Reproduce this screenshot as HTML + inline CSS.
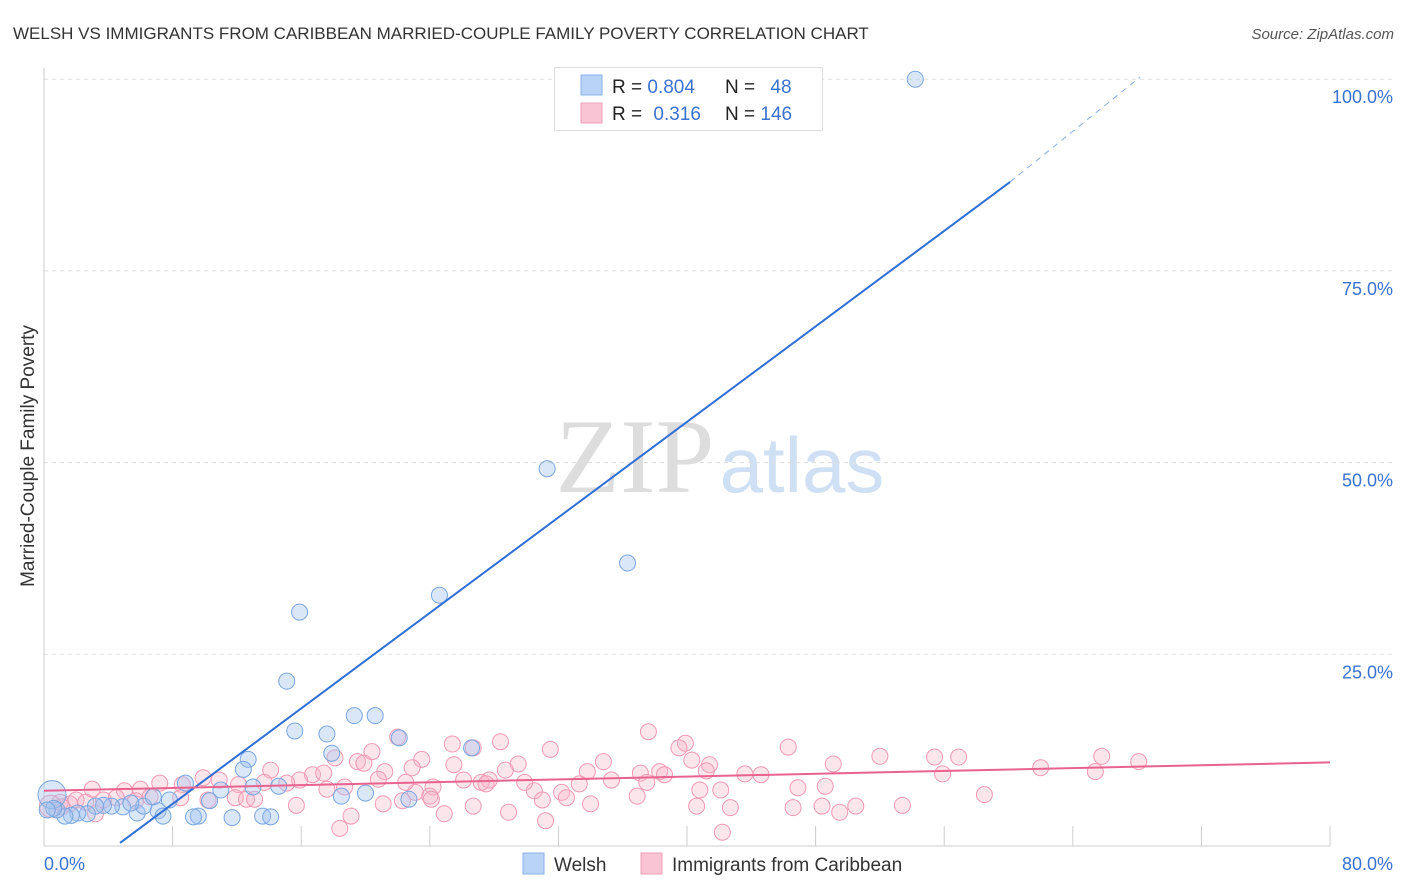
<!DOCTYPE html>
<html><head><meta charset="utf-8">
<style>
body{margin:0;background:#fff;font-family:"Liberation Sans",sans-serif;}
svg{display:block}
</style></head>
<body>
<svg id="chart" width="1406" height="892" xmlns="http://www.w3.org/2000/svg">
<text x="13" y="39" font-size="17" fill="#333">WELSH VS IMMIGRANTS FROM CARIBBEAN MARRIED-COUPLE FAMILY POVERTY CORRELATION CHART</text>
<text x="1394" y="39" font-size="15" fill="#555" font-style="italic" text-anchor="end">Source: ZipAtlas.com</text>
<text x="34" y="456" font-size="19" fill="#333" text-anchor="middle" transform="rotate(-90 34 456)">Married-Couple Family Poverty</text>
<g>
<text x="635" y="492" font-size="106" fill="#ddd" font-family="Liberation Serif,serif" text-anchor="middle">ZIP</text>
<text x="802" y="492" font-size="78" fill="#cfe0f4" text-anchor="middle">atlas</text>
</g>
<g id="grid"></g>
<g id="axes"></g>
<g id="pts"></g>
<g id="lines"></g>
<g>
<rect x="554.5" y="67.5" width="268" height="63" fill="#fff" stroke="#ddd"/>
<rect x="581" y="75" width="21" height="20" fill="#b8d3f5" stroke="#8ab2e8"/>
<rect x="581" y="103" width="21" height="20" fill="#f9c4d3" stroke="#f0a0b8"/>
<text x="612" y="93" font-size="19" fill="#222">R = <tspan fill="#3a72d0">0.804</tspan></text>
<text x="725" y="93" font-size="19" fill="#222">N = <tspan fill="#3a72d0" dx="10">48</tspan></text>
<text x="612" y="120" font-size="19" fill="#222">R = <tspan fill="#3a72d0" dx="6">0.316</tspan></text>
<text x="725" y="120" font-size="19" fill="#222">N = <tspan fill="#3a72d0">146</tspan></text>
</g>
<g>
<rect x="523" y="853" width="21" height="21" fill="#b8d3f5" stroke="#8ab2e8"/>
<text x="554" y="871" font-size="19" fill="#333">Welsh</text>
<rect x="641" y="853" width="21" height="21" fill="#f9c4d3" stroke="#f0a0b8"/>
<text x="672" y="871" font-size="19" fill="#333">Immigrants from Caribbean</text>
</g>
</svg>
<script>
const xTicks=[0,8,16,24,32,40,48,56,64,72,80];
const yTicks=[25,50,75,100];
const yTickLabels=["25.0%","50.0%","75.0%","100.0%"];
const xEndLabels=["0.0%","80.0%"];
const welshX=[54.2,31.3,36.3,24.6,15.9,15.1,15.6,17.6,19.3,20.6,17.9,22.1,26.6,12.7,12.4,14.6,18.5,20.0,22.7,13.0,11.0,8.8,10.3,11.7,13.6,14.1,9.6,9.3,7.1,7.4,5.8,6.2,6.8,7.8,4.9,4.2,3.7,3.2,2.7,2.1,1.7,1.3,0.8,0.5,0.6,0.2,5.4,33.3];
const welshY=[100,49.2,36.9,32.7,30.5,21.5,15.0,14.6,17.0,17.0,12.1,14.1,12.8,11.3,10.0,7.8,6.5,6.9,6.1,7.7,7.3,8.2,5.9,3.7,3.9,3.8,3.9,3.8,4.6,3.9,4.3,5.2,6.4,6.0,5.1,5.2,5.3,5.2,4.2,4.3,4.0,3.9,4.7,6.7,4.9,4.7,5.6,100];
const caribX=[37.6,39.9,39.5,46.3,52.0,55.4,56.9,65.8,68.1,62.0,65.4,55.9,49.1,44.6,41.4,40.3,34.8,31.5,28.4,25.4,26.7,22.0,20.4,18.1,19.5,19.9,29.5,25.5,23.5,22.9,21.2,28.7,33.8,37.1,38.3,38.6,41.2,43.6,42.1,48.6,46.9,40.8,37.5,35.3,33.3,32.2,30.5,29.9,27.7,27.2,27.5,26.1,24.2,23.1,22.5,20.8,18.7,17.6,16.7,17.4,15.9,15.1,14.1,13.7,12.1,10.9,9.9,8.6,7.2,6.0,5.0,3.0,2.0,1.6,1.0,2.6,3.7,4.5,5.7,6.6,8.5,10.2,11.9,12.6,13.1,15.7,21.1,22.3,24.0,24.1,26.7,28.9,31.0,32.5,34.0,36.9,40.6,42.7,46.6,48.4,50.5,53.4,58.5,49.5,42.2,31.2,24.9,19.1,18.4,3.2,1.1,0.4];
const caribY=[14.9,13.4,12.8,12.9,11.7,11.6,11.6,11.7,11.0,10.2,9.7,9.4,10.7,9.3,10.6,11.2,11.0,12.6,13.6,13.3,12.8,14.2,12.3,11.5,11.0,10.8,10.7,10.6,11.3,10.2,9.7,9.9,9.7,9.5,9.7,9.3,9.8,9.4,7.3,7.8,7.6,7.3,8.3,8.6,8.1,7.0,7.2,8.3,8.6,8.3,8.1,8.6,7.7,7.0,8.3,8.7,7.7,7.4,9.3,9.5,8.6,8.2,9.9,8.3,8.0,8.6,8.9,8.0,8.2,7.4,7.2,7.4,6.0,5.5,5.7,5.7,6.0,6.3,5.9,6.4,6.3,6.0,6.3,6.1,6.1,5.3,5.5,5.9,6.5,6.1,5.2,4.4,6.0,6.3,5.5,6.5,5.2,5.0,5.0,5.2,5.2,5.3,6.7,4.4,1.8,3.3,4.2,3.9,2.3,4.2,5.1,5.2];
const welshFit=[[4.73,0.4],[60.1,86.6],[68.2,100.3]];
const caribFit=[[0,7.2],[80,10.9]];
const X=v=>44+v*16.075, Y=v=>846-v*7.668;
const NS="http://www.w3.org/2000/svg";
function mk(tag,attrs,parent){const e=document.createElementNS(NS,tag);for(const k in attrs)e.setAttribute(k,attrs[k]);parent.appendChild(e);return e;}
const grid=document.getElementById('grid'),axes=document.getElementById('axes'),pts=document.getElementById('pts'),lines=document.getElementById('lines');
yTicks.forEach((t,i)=>{
 const l=mk('line',{x1:44,x2:1394,y1:Y(t),y2:Y(t),stroke:'#ddd','stroke-dasharray':'4,4'},grid);
 
 
 const tx=mk('text',{x:1393,y:Y(t)+24,'font-size':18,fill:'#3a72d0','text-anchor':'end'},axes);
 tx.textContent=yTickLabels[i];
 
 
});
const ax=mk('line',{x1:44,x2:44,y1:68,y2:846,stroke:'#ccc'},axes);


const bx=mk('line',{x1:44,x2:1330,y1:846,y2:846,stroke:'#ccc'},axes);


xTicks.forEach(t=>{
 const l=mk('line',{x1:X(t),x2:X(t),y1:826,y2:846,stroke:'#ccc'},axes);
 
 
});
const l0=mk('text',{x:44,y:870,'font-size':18,fill:'#3a72d0'},axes);l0.textContent=xEndLabels[0];


const l1=mk('text',{x:1393,y:870,'font-size':18,fill:'#3a72d0','text-anchor':'end'},axes);l1.textContent=xEndLabels[1];


caribX.forEach((v,i)=>{
 const c=mk('circle',{cx:X(v),cy:Y(caribY[i]),r:i==caribX.length-1?11:8,fill:'rgba(248,180,200,0.35)',stroke:'#f09ab4','stroke-width':1},pts);
 
 
});
welshX.forEach((v,i)=>{
 const c=mk('circle',{cx:X(v),cy:Y(welshY[i]),r:i==43?14:8,fill:'rgba(160,195,240,0.4)',stroke:'#7aa6e0','stroke-width':1},pts);
 
 
});
const wl=mk('line',{x1:X(welshFit[0][0]),y1:Y(welshFit[0][1]),x2:X(welshFit[1][0]),y2:Y(welshFit[1][1]),stroke:'#2f6fd6','stroke-width':2},lines);


const wd=mk('line',{x1:X(welshFit[1][0]),y1:Y(welshFit[1][1]),x2:X(welshFit[2][0]),y2:Y(welshFit[2][1]),stroke:'#8ab0e8','stroke-width':1,'stroke-dasharray':'6,5'},lines);


const cl=mk('line',{x1:X(caribFit[0][0]),y1:Y(caribFit[0][1]),x2:X(caribFit[1][0]),y2:Y(caribFit[1][1]),stroke:'#e8638f','stroke-width':2},lines);


</script>
</body></html>
